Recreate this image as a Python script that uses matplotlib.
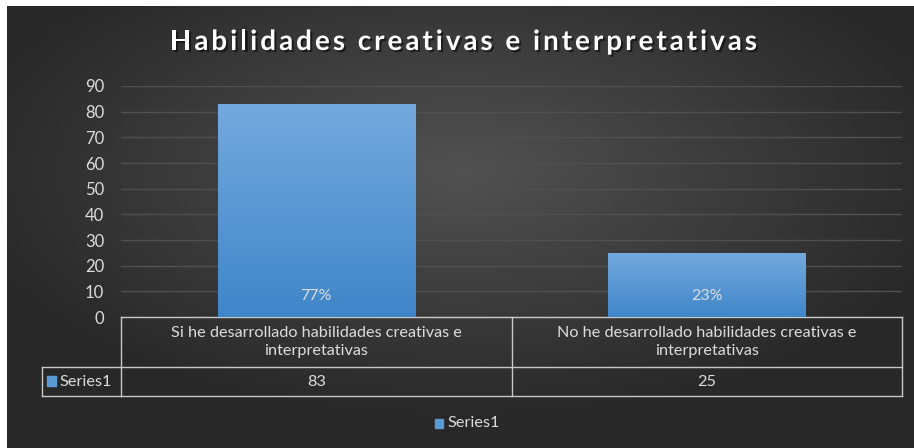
import numpy as np
import matplotlib
matplotlib.use("Agg")
import matplotlib.pyplot as plt
import matplotlib.patheffects as pe
from matplotlib.transforms import blended_transform_factory

# chart data
categories = ["Si he desarrollado habilidades creativas e\ninterpretativas",
              "No he desarrollado habilidades creativas e\ninterpretativas"]
values = [83, 25]
pct_labels = ["77%", "23%"]
series_name = "Series1"
yticks = [0, 10, 20, 30, 40, 50, 60, 70, 80, 90]
title = "Habilidades creativas e interpretativas"

W, H = 914, 448
txt = "#dcdcdc"
line_col = "#c8c8c8"
blue = "#5b9bd5"

plt.rcParams['font.family'] = ['Lato', 'DejaVu Sans']

fig = plt.figure(figsize=(W / 100, H / 100), dpi=100)
fig.patch.set_facecolor("white")

# dark radial gradient background
bg = fig.add_axes([7 / W, 0, 1 - 7 / W, 1 - 6 / H])
gx, gy = np.meshgrid(np.linspace(-1, 1, 400), np.linspace(-1, 1, 200))
r = np.sqrt((gx * 0.9) ** 2 + ((gy + 0.25) * 0.9) ** 2)
shade = np.clip(0.32 - 0.16 * r, 0.16, 0.32)
bg.imshow(np.dstack([shade, shade, shade]), aspect="auto", extent=[0, 1, 0, 1])
bg.set_axis_off()


def fx(px):
    return px / W


def fy(py):
    return 1 - py / H


ax_left, ax_right, ax_top, ax_bot = 121, 902, 86, 317
ax = fig.add_axes([fx(ax_left), fy(ax_bot), (ax_right - ax_left) / W, (ax_bot - ax_top) / H])
ax.patch.set_alpha(0)
x = np.arange(len(values))
bars = ax.bar(x, values, width=0.505, color=blue, edgecolor="#2c3f52", linewidth=0.8, zorder=3)

# vertical gradient on bars
grad = np.linspace(0, 1, 256).reshape(-1, 1)
cmap = matplotlib.colors.LinearSegmentedColormap.from_list("b", ["#3f86c9", "#74a9de"])
for b in bars:
    im = ax.imshow(grad, cmap=cmap, origin="lower", aspect="auto", zorder=3.5,
                   extent=[b.get_x(), b.get_x() + b.get_width(), 0, b.get_height()])
    im.set_clip_path(b)

ax.set_xlim(-0.5, len(values) - 0.5)
ax.set_ylim(0, 90)
ax.set_yticks(yticks)
ax.set_yticklabels([str(t) for t in yticks], color=txt, fontsize=12)
ax.tick_params(axis="y", length=0, pad=12)
ax.set_xticks([])
ax.yaxis.grid(True, color="#505050", linewidth=1)
ax.set_axisbelow(True)
for s in ax.spines.values():
    s.set_visible(False)

for xi, lab in zip(x, pct_labels):
    ax.text(xi, 8.2, lab, ha="center", va="center", color=txt, fontsize=11.5, zorder=5)

# title with letter spacing, drawn char by char
renderer = fig.canvas.get_renderer()
tkw = dict(color="white", fontsize=20, fontweight="bold", va="center", ha="left",
           path_effects=[pe.withSimplePatchShadow(offset=(1.5, -1.5), shadow_rgbFace="black", alpha=0.5)])


def text_w(s):
    t = fig.text(0, 0, s, **tkw)
    w = t.get_window_extent(renderer).width
    t.remove()
    return w


target_w = 587
spacing = (target_w - text_w(title)) / (len(title) - 1)
start = 463.5 - target_w / 2
for i, ch in enumerate(title):
    if ch == " ":
        continue
    off = text_w(title[:i] + "|") - text_w("|") if i > 0 else 0
    fig.text(fx(start + off + i * spacing), fy(42), ch, **tkw)

# data table under the axis
tr = blended_transform_factory(ax.transData, fig.transFigure)
row1, row2, row3 = fy(317), fy(367), fy(396)
lkw = dict(color=line_col, linewidth=1)
edges = [-0.5 + i for i in range(len(values) + 1)]
for ry in (row1, row2, row3):
    ax.plot([edges[0], edges[-1]], [ry, ry], transform=tr, clip_on=False, **lkw)
for e in edges:
    ax.plot([e, e], [row1, row3], transform=tr, clip_on=False, **lkw)
fig.add_artist(plt.Line2D([fx(42), fx(121)], [row2, row2], **lkw))
fig.add_artist(plt.Line2D([fx(42), fx(121)], [row3, row3], **lkw))
fig.add_artist(plt.Line2D([fx(42), fx(42)], [row2, row3], **lkw))

for xi, cat, v in zip(x, categories, values):
    ax.text(xi, (row1 + row2) / 2, cat, transform=tr, ha="center", va="center",
            color=txt, fontsize=11.7, linespacing=1.3)
    ax.text(xi, (row2 + row3) / 2, str(v), transform=tr, ha="center", va="center",
            color=txt, fontsize=11.7)

fig.patches.append(plt.Rectangle((fx(47), fy(386)), 9 / W, 10 / H, color=blue,
                                 transform=fig.transFigure, figure=fig))
fig.text(fx(59), (row2 + row3) / 2, series_name, ha="left", va="center", color=txt, fontsize=11.7)

# legend
fig.patches.append(plt.Rectangle((fx(435), fy(428)), 8 / W, 9 / H, color=blue,
                                 transform=fig.transFigure, figure=fig))
fig.text(fx(448), fy(423), series_name, ha="left", va="center", color=txt, fontsize=11.7)

fig.savefig("out.png", dpi=100, facecolor=fig.get_facecolor())
